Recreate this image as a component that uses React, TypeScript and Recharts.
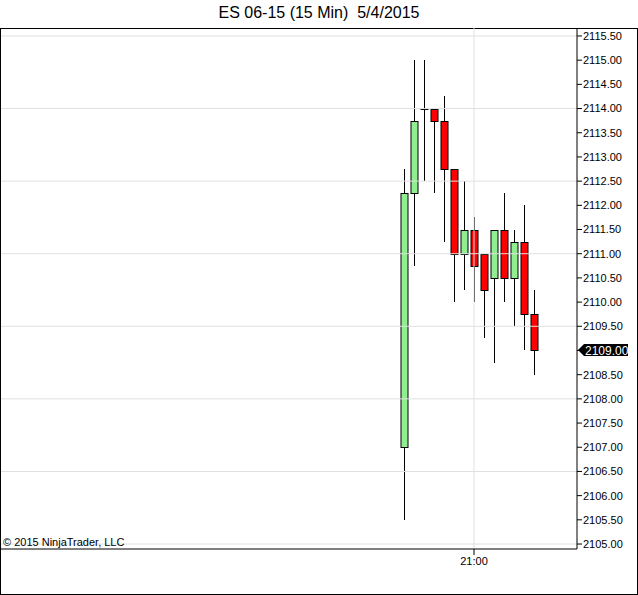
import React from 'react';
import {
  ComposedChart,
  Bar,
  XAxis,
  YAxis,
  ReferenceLine,
} from 'recharts';

const times = ['19:15', '19:30', '19:45', '20:00', '20:15', '20:30', '20:45', '21:00', '21:15', '21:30', '21:45', '22:00', '22:15', '22:30'];
const opens = [2107.0, 2112.25, 2114.0, 2114.0, 2113.75, 2112.75, 2111.0, 2111.5, 2111.0, 2110.5, 2111.5, 2110.5, 2111.25, 2109.75];
const highs = [2112.75, 2115.0, 2115.0, 2114.0, 2114.25, 2112.75, 2112.5, 2111.75, 2111.0, 2111.5, 2112.25, 2111.5, 2112.0, 2110.25];
const lows = [2105.5, 2110.75, 2112.5, 2112.25, 2111.25, 2110.0, 2110.25, 2110.0, 2109.25, 2108.75, 2110.0, 2109.5, 2109.0, 2108.5];
const closes = [2112.25, 2113.75, 2114.0, 2113.75, 2112.75, 2111.0, 2111.5, 2110.75, 2110.25, 2111.5, 2110.5, 2111.25, 2109.75, 2109.0];

const priceTicks = [2105, 2105.5, 2106, 2106.5, 2107, 2107.5, 2108, 2108.5, 2109, 2109.5, 2110, 2110.5, 2111, 2111.5, 2112, 2112.5, 2113, 2113.5, 2114, 2114.5, 2115, 2115.5];
const gridPrices = [2105, 2106.5, 2108, 2109.5, 2111, 2112.5, 2114, 2115.5];
const timeTicks = ['21:00'];
const title = 'ES 06-15 (15 Min)  5/4/2015';
const copyright = '\u00a9 2015 NinjaTrader, LLC';

const data = times.map((t, i) => ({
  time: t,
  open: opens[i],
  high: highs[i],
  low: lows[i],
  close: closes[i],
  range: [lows[i], highs[i]],
}));

const lastClose = closes[closes.length - 1];
const FONT = '"Liberation Sans", Arial, sans-serif';

const Candle = (props: any) => {
  const { x, y, width, height, payload } = props;
  const { open, close, high, low } = payload;
  const ppu = height / (high - low);
  const yOf = (v: number) => y + (high - v) * ppu;
  const cx = Math.round(x + width / 2) - 0.5;
  const top = Math.round(yOf(Math.max(open, close))) + 0.5;
  const bottom = Math.round(yOf(Math.min(open, close))) + 0.5;
  const up = close > open;
  return (
    <g>
      <line x1={cx} x2={cx} y1={Math.round(y)} y2={Math.round(y + height)} stroke="#000" strokeWidth={1} />
      {open === close ? (
        <line x1={cx - 4} x2={cx + 4} y1={top} y2={top} stroke="#000" strokeWidth={1} />
      ) : (
        <rect
          x={cx - 3.5}
          y={top}
          width={7}
          height={bottom - top}
          fill={up ? '#90ee90' : '#ff0000'}
          stroke="#000"
          strokeWidth={1}
        />
      )}
    </g>
  );
};

const LastPrice = (props: any) => {
  const { viewBox } = props;
  const x0 = viewBox.x + viewBox.width + 1;
  const yc = Math.round(viewBox.y);
  return (
    <g>
      <polygon
        points={`${x0},${yc} ${x0 + 6},${yc - 6} ${x0 + 50},${yc - 6} ${x0 + 50},${yc + 6} ${x0 + 6},${yc + 6}`}
        fill="#000"
      />
      <text x={x0 + 7} y={yc + 4.5} fill="#fff" fontSize={12} fontFamily={FONT}>
        {lastClose.toFixed(2)}
      </text>
    </g>
  );
};

export default function App() {
  return (
    <div style={{ position: 'absolute', left: 0, top: 0, width: 638, height: 595, background: '#fff', fontFamily: FONT }}>
      <div style={{ position: 'absolute', left: 0, top: 4, width: 638, textAlign: 'center', fontSize: 16, whiteSpace: 'pre' }}>
        {title}
      </div>
      <div style={{ position: 'absolute', left: 0, top: 28, width: 638, height: 567, border: '1px solid #000', boxSizing: 'border-box' }} />
      <div style={{ position: 'absolute', left: 0, top: 0 }}>
        <ComposedChart width={638} height={595} data={data} margin={{ top: 28, right: 0, bottom: 0, left: 1 }}>
          {gridPrices.map((p) => (
            <ReferenceLine key={p} y={p} stroke="#e0e0e0" strokeWidth={1} />
          ))}
          <ReferenceLine x="21:00" stroke="#e0e0e0" strokeWidth={1} />
          <XAxis
            dataKey="time"
            ticks={timeTicks}
            interval={0}
            padding={{ left: 398, right: 38 }}
            axisLine={{ stroke: '#000' }}
            tickLine={{ stroke: '#000' }}
            tickSize={6}
            tick={{ fill: '#000', fontSize: 11, fontFamily: FONT }}
            height={46}
          />
          <YAxis
            orientation="right"
            domain={[2104.897, 2115.665]}
            allowDataOverflow
            ticks={priceTicks}
            interval={0}
            tickFormatter={(v: number) => (v === lastClose ? '' : v.toFixed(2))}
            axisLine={{ stroke: '#000' }}
            tickLine={{ stroke: '#000' }}
            tickSize={5}
            tickMargin={1}
            tick={{ fill: '#000', fontSize: 11, fontFamily: FONT, textAnchor: 'start' }}
            width={61}
          />
          <Bar dataKey="range" barSize={7} shape={<Candle />} isAnimationActive={false} />
          <ReferenceLine y={lastClose} stroke="none" label={<LastPrice />} />
        </ComposedChart>
      </div>
      <div style={{ position: 'absolute', left: 3, top: 536, fontSize: 11 }}>{copyright}</div>
    </div>
  );
}
